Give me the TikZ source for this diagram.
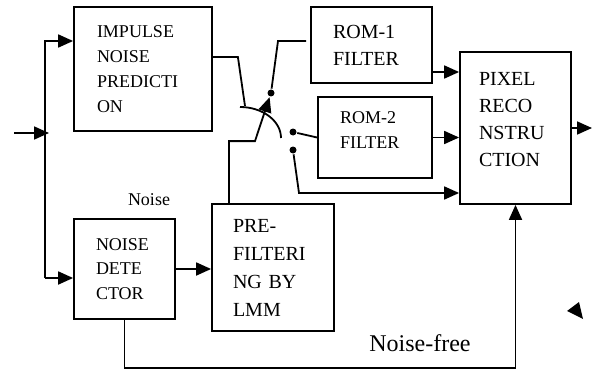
\documentclass[tikz,border=0pt]{standalone}
\usepackage{fontspec}
\setmainfont{Liberation Serif}
\usetikzlibrary{arrows.meta}
\tikzset{
  blk/.style={draw, inner sep=0pt, align=left},
  arr/.style={-{Triangle[length=15pt,width=13pt]}},
  dot/.style={circle, fill, inner sep=0pt, minimum size=7pt}
}
\begin{document}
\begin{tikzpicture}[x=1pt,y=-1pt,line width=1.8pt]
\useasboundingbox (0,0) rectangle (592,369);
\node[blk, minimum width=138pt, minimum height=124pt, text width=92pt, font=\fontsize{18}{25}\selectfont] (imp) at (143,69) {IMPULSE\\NOISE\\PREDICTI\\ON};
\node[blk, minimum width=101pt, minimum height=100pt, text width=57pt, font=\fontsize{18}{24.5}\selectfont] (nd) at (124.5,269) {NOISE\\DETE\\CTOR};
\node[blk, minimum width=122pt, minimum height=127pt, text width=80pt, font=\fontsize{20}{28}\selectfont] (pre) at (273,267.5) {PRE-\\FILTERI\\NG BY\\LMM};
\node[blk, minimum width=121pt, minimum height=76pt, text width=77pt, font=\fontsize{20}{27}\selectfont] (rom1) at (371.5,45) {ROM-1\\FILTER};
\node[blk, minimum width=114pt, minimum height=81pt, text width=70pt, font=\fontsize{18}{25}\selectfont] (rom2) at (375,137.5) {ROM-2\\FILTER\rule[-14pt]{0pt}{14pt}};
\node[blk, minimum width=111pt, minimum height=152pt, text width=73pt, font=\fontsize{20}{27}\selectfont] (pix) at (515.5,128) {PIXEL\\RECO\\NSTRU\\CTION\rule[-18pt]{0pt}{18pt}};
\node[font=\fontsize{18}{20}\selectfont] (nlab) at (149,200) {Noise};
\node[font=\fontsize{24}{26}\selectfont] (nf) at (420,343) {Noise-free};
\node[dot] (c1) at (271,93) {};
\node[dot] (c2) at (293,132) {};
\node[dot] (c3) at (293,150) {};
\coordinate (in) at (14,133);
\coordinate (jn) at (49,133);
\coordinate (bus) at (45,133);
\coordinate (impin) at ([yshift=28pt]imp.west);
\coordinate (ndin) at ([yshift=-9pt]nd.west);
\coordinate (r1) at (306,41);
\coordinate (c3b) at (299,193);
\coordinate (out) at (592,128);
\draw[arr] (in) -- (jn);
\draw[arr] (bus |- ndin) -- (ndin);
\draw[arr] (bus |- ndin) |- (impin);
\draw[arr] (nd.east) -- (nd.east -| pre.west);
\draw[arr] (nd.south) -- ++(0,48) -| (pix.south);
\draw ([yshift=12pt]imp.east) -- ++(25,0) -- (245,106);
\draw (240,107) .. controls (262.6,107) and (281,120.9) .. (281,138);
\draw[arr] ([xshift=-44pt]pre.north) -- ++(0,-62) -- ++(26,0) -- (c1);
\draw (c1) -- (278,41) -- (r1);
\draw (c2) -- (rom2.west);
\draw[arr] (c3) -- (c3b) -- (c3b -| pix.west);
\draw[arr] ([yshift=-27pt]rom1.east) -- ([yshift=-27pt]rom1.east -| pix.west);
\draw[arr] (rom2.east) -- (rom2.east -| pix.west);
\draw[arr] (pix.east) -- (out);
\fill (567,311) -- (579,302) -- (583,319) -- cycle;
\end{tikzpicture}
\end{document}
